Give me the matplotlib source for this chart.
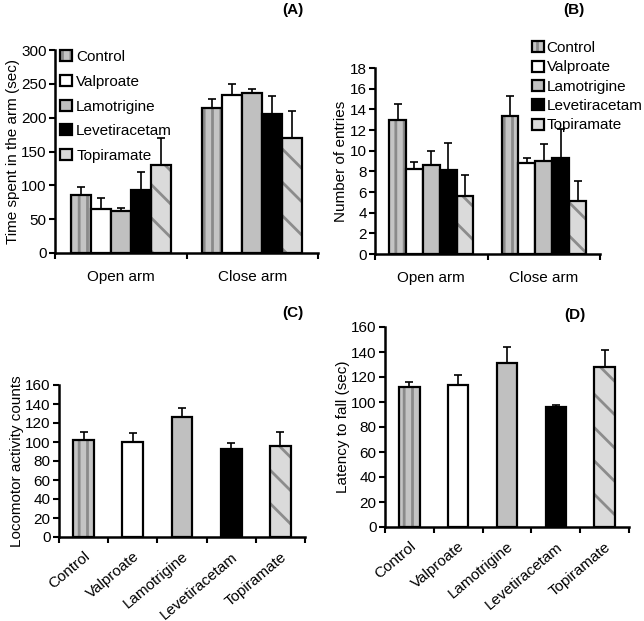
import matplotlib
matplotlib.use("Agg")
import matplotlib.pyplot as plt
import numpy as np
from matplotlib.patches import Patch

plt.rcParams['font.family'] = ['Liberation Sans', 'DejaVu Sans']
plt.rcParams['hatch.linewidth'] = 2.0

groups = ["Control", "Valproate", "Lamotrigine", "Levetiracetam", "Topiramate"]
arms = ["Open arm", "Close arm"]

# Panel A: time spent in arm (sec)
a_open = [85, 65, 62, 93, 130]
a_open_err = [12, 17, 5, 27, 40]
a_close = [214, 234, 237, 205, 170]
a_close_err = [13, 16, 5, 27, 40]

# Panel B: number of entries
b_open = [13.0, 8.2, 8.6, 8.1, 5.6]
b_open_err = [1.5, 0.7, 1.4, 2.6, 2.0]
b_close = [13.4, 8.8, 9.0, 9.3, 5.1]
b_close_err = [1.9, 0.5, 1.6, 2.8, 2.0]

# Panel C: locomotor activity counts
c_vals = [102, 100, 126, 93, 96]
c_err = [9, 9, 10, 6, 15]

# Panel D: latency to fall (sec)
d_vals = [112, 114, 131, 96, 128]
d_err = [4, 8, 13, 2, 14]

styles = [
    dict(fc='#c4c4c4', hatch='||', hc='#8a8a8a'),
    dict(fc='white', hatch=None, hc=None),
    dict(fc='#c0c0c0', hatch=None, hc=None),
    dict(fc='black', hatch=None, hc=None),
    dict(fc='#dadada', hatch='\\', hc='#8c8c8c'),
]

FS = 11
W, H = 644, 621
fig = plt.figure(figsize=(W / 100, H / 100), dpi=100)


def ax_px(l, r, b, t):
    return fig.add_axes([l / W, 1 - b / H, (r - l) / W, (b - t) / H])


def draw_bar(ax, x, h, err, st, width):
    if st['hatch']:
        ax.bar(x, h, width, color=st['fc'], hatch=st['hatch'], edgecolor=st['hc'], linewidth=0, zorder=2)
        ax.bar(x, h, width, fill=False, edgecolor='black', linewidth=1.6, zorder=3)
    else:
        ax.bar(x, h, width, color=st['fc'], edgecolor='black', linewidth=1.6, zorder=3)
    ax.errorbar(x, h, yerr=[[0], [err]], fmt='none', ecolor='black', elinewidth=1.2, capsize=3, capthick=1.2, zorder=4)


def style_axes(ax, ncat):
    for s in ['top', 'right']:
        ax.spines[s].set_visible(False)
    for s in ['left', 'bottom']:
        ax.spines[s].set_linewidth(1.8)
    ax.set_xlim(-0.5, ncat - 0.5)
    ax.set_xticks(range(ncat))
    ax.tick_params(axis='x', which='major', length=0, labelsize=FS, pad=12)
    ax.set_xticks(np.arange(-0.5, ncat, 1.0), minor=True)
    ax.tick_params(axis='x', which='minor', length=4, width=1.5, direction='out')
    ax.tick_params(axis='y', length=4, width=1.5, direction='out', labelsize=FS, pad=2)


def handles():
    hs = []
    for st in styles:
        if st['hatch']:
            hs.append((Patch(facecolor=st['fc'], hatch=st['hatch'], edgecolor=st['hc'], linewidth=0),
                       Patch(fill=False, edgecolor='black', linewidth=1.6)))
        else:
            hs.append(Patch(facecolor=st['fc'], edgecolor='black', linewidth=1.6))
    return hs


def grouped(ax, open_v, open_e, close_v, close_e, width):
    offs = (np.arange(5) - 2) * width
    for gi, (vals, errs) in enumerate([(open_v, open_e), (close_v, close_e)]):
        for i in range(5):
            draw_bar(ax, gi + offs[i], vals[i], errs[i], styles[i], width)
    style_axes(ax, 2)
    ax.set_xticklabels(arms)


# Panel A
axA = ax_px(55, 318, 253, 50)
grouped(axA, a_open, a_open_err, a_close, a_close_err, 0.152)
axA.set_ylim(0, 300)
axA.set_yticks(range(0, 301, 50))
axA.set_ylabel("Time spent in the arm (sec)", fontsize=FS, labelpad=1)
fig.legend(handles=handles(), labels=groups, loc='upper left', bbox_to_anchor=(54 / W, 1 - 44 / H),
           frameon=False, fontsize=FS, handlelength=0.75, handleheight=0.75,
           handletextpad=0.3, labelspacing=0.7, borderaxespad=0)
fig.text(293 / W, 1 - 10 / H, "(A)", fontsize=FS, fontweight='bold', ha='center', va='center')

# Panel B
axB = ax_px(375, 600, 254, 68)
grouped(axB, b_open, b_open_err, b_close, b_close_err, 0.15)
axB.set_ylim(0, 18)
axB.set_yticks(range(0, 19, 2))
axB.set_ylabel("Number of entries", fontsize=FS, labelpad=1)
fig.legend(handles=handles(), labels=groups, loc='upper left', bbox_to_anchor=(526 / W, 1 - 35 / H),
           frameon=False, fontsize=FS, handlelength=0.75, handleheight=0.75,
           handletextpad=0.2, labelspacing=0.35, borderaxespad=0)
fig.text(574 / W, 1 - 10 / H, "(B)", fontsize=FS, fontweight='bold', ha='center', va='center')

# Panel C
axC = ax_px(59, 305, 537, 385)
for i in range(5):
    draw_bar(axC, i, c_vals[i], c_err[i], styles[i], 0.42)
style_axes(axC, 5)
axC.set_xticklabels(groups, rotation=40, ha='right', rotation_mode='anchor')
axC.tick_params(axis='x', which='major', pad=9)
axC.set_ylim(0, 160)
axC.set_yticks(range(0, 161, 20))
axC.set_ylabel("Locomotor activity counts", fontsize=FS, labelpad=1)
fig.text(293 / W, 1 - 313 / H, "(C)", fontsize=FS, fontweight='bold', ha='center', va='center')

# Panel D
axD = ax_px(385, 629, 527, 327)
for i in range(5):
    draw_bar(axD, i, d_vals[i], d_err[i], styles[i], 0.42)
style_axes(axD, 5)
axD.set_xticklabels(groups, rotation=40, ha='right', rotation_mode='anchor')
axD.tick_params(axis='x', which='major', pad=9)
axD.set_ylim(0, 160)
axD.set_yticks(range(0, 161, 20))
axD.set_ylabel("Latency to fall (sec)", fontsize=FS, labelpad=1)
fig.text(575 / W, 1 - 315 / H, "(D)", fontsize=FS, fontweight='bold', ha='center', va='center')

fig.savefig("out.png", dpi=100)
